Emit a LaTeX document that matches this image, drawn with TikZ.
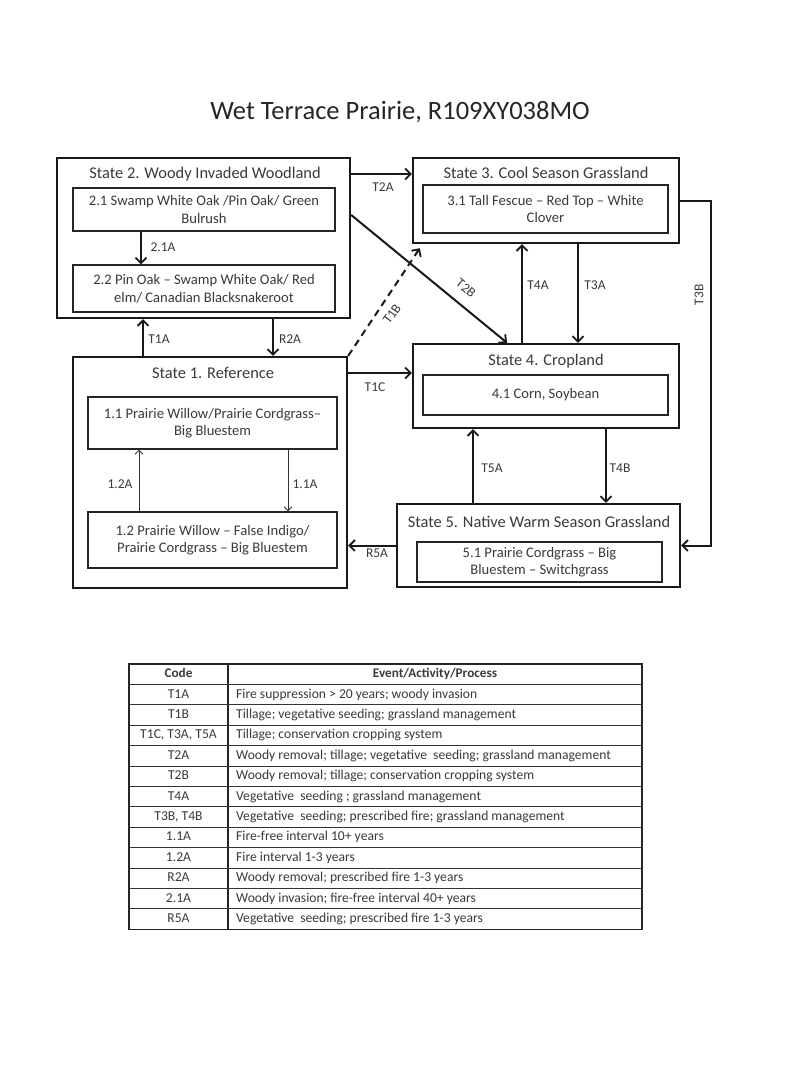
\documentclass[tikz,border=0pt]{standalone}
\usepackage{fontspec}
\setmainfont{Carlito}
\usetikzlibrary{arrows.meta,calc}
\definecolor{txt}{HTML}{3A3A3A}
\tikzset{
  statebox/.style={draw=black!90,line width=2.4pt,minimum width=#1,inner sep=0pt},
  innerbox/.style={draw=black!85,line width=1.2pt,inner sep=0pt,align=center,text=txt,font=\fontsize{14.6}{17.5}\selectfont},
  stitle/.style={text=txt,font=\fontsize{16.4}{19}\selectfont,inner sep=0pt},
  arr/.style={line width=2pt,black!90,-{Straight Barb[length=5.5pt,width=11pt,line width=1.8pt]}},
  tarr/.style={line width=0.9pt,black!80,-{Straight Barb[length=4pt,width=8pt,line width=0.9pt]}},
  lbl/.style={text=txt,font=\fontsize{13.5}{15}\selectfont,inner sep=0pt},
  tcell/.style={text=txt,font=\fontsize{13.6}{15}\selectfont,inner sep=0pt,text height=9.6pt,text depth=2.8pt},
}
\begin{document}
\begin{tikzpicture}[x=1pt,y=-1pt]
\useasboundingbox[fill=white] (0,0) rectangle (800,1065);

\node[text=black!85,font=\fontsize{26.5}{30}\selectfont,inner sep=0pt] (title) at (400,112) {Wet Terrace Prairie, R109XY038MO};

% State 2
\node[statebox=293pt,minimum height=160pt] (s2) at (203.5,238) {};
\node[stitle] (s2t) at (205,174) {State 2. Woody Invaded Woodland};
\node[innerbox,minimum width=262pt,minimum height=43pt] (n21) at (204,209.5) {2.1 Swamp White Oak /Pin Oak/ Green\\Bulrush};
\node[innerbox,minimum width=262pt,minimum height=47pt] (n22) at (204,288.5) {2.2 Pin Oak -- Swamp White Oak/ Red\\elm/ Canadian Blacksnakeroot};

% State 3
\node[statebox=266pt,minimum height=85pt] (s3) at (546,200.5) {};
\node[stitle] (s3t) at (546,173) {State 3. Cool Season Grassland};
\node[innerbox,minimum width=245pt,minimum height=48pt] (n31) at (545.5,209) {3.1 Tall Fescue -- Red Top -- White\\Clover};

% State 1
\node[statebox=274pt,minimum height=231pt] (s1) at (210,472.5) {};
\node[stitle] (s1t) at (213,373) {State 1. Reference};
\node[innerbox,minimum width=249pt,minimum height=52pt] (n11) at (212.5,423) {1.1 Prairie Willow/Prairie Cordgrass--\\Big Bluestem};
\node[innerbox,minimum width=249pt,minimum height=56pt] (n12) at (212.5,540) {1.2 Prairie Willow -- False Indigo/\\Prairie Cordgrass -- Big Bluestem};

% State 4
\node[statebox=266pt,minimum height=84pt] (s4) at (546,386) {};
\node[stitle] (s4t) at (546,361) {State 4. Cropland};
\node[innerbox,minimum width=245pt,minimum height=40pt] (n41) at (545.5,395) {4.1 Corn, Soybean};

% State 5
\node[statebox=283pt,minimum height=83pt] (s5) at (538.5,545.5) {};
\node[stitle] (s5t) at (539,522) {State 5. Native Warm Season Grassland};
\node[innerbox,minimum width=245pt,minimum height=40pt] (n51) at (539.5,562) {5.1 Prairie Cordgrass -- Big\\Bluestem -- Switchgrass};

% helper coordinates for vertical connectors
\coordinate (xT1A) at (143,0);
\coordinate (xR2A) at (273,0);
\coordinate (x21A) at (141,0);
\coordinate (x12A) at (139,0);
\coordinate (x11A) at (288,0);
\coordinate (xT4A) at (522,0);
\coordinate (xT3A) at (578,0);
\coordinate (xT5A) at (473,0);
\coordinate (xT4B) at (606,0);

% connectors
\draw[arr] (s2.east |- s2t) -- (s3.west |- s2t);
\draw[arr] ([yshift=23pt]s2.east) -- ([xshift=-39pt]s4.north);
\draw[arr,dash pattern=on 7pt off 5pt] (s1.north east) -- ([xshift=8pt,yshift=-4pt]s3.south west);
\draw[arr] (s4.north -| xT4A) -- (s3.south -| xT4A);
\draw[arr] (s3.south -| xT3A) -- (s4.north -| xT3A);
\draw[arr] (s3.east) -- ++(31,0) |- (s5.east);
\draw[arr] (s1.north -| xT1A) -- (s2.south -| xT1A);
\draw[arr] (s2.south -| xR2A) -- (s1.north -| xR2A);
\draw[arr] (s1.east |- s1t) -- (s4.west |- s1t);
\draw[arr] (s5.north -| xT5A) -- (s4.south -| xT5A);
\draw[arr] (s4.south -| xT4B) -- (s5.north -| xT4B);
\draw[arr] (s5.west) -- (s1.east |- s5.west);
\draw[arr] (n21.south -| x21A) -- (n22.north -| x21A);
\draw[tarr] (n12.north -| x12A) -- (n11.south -| x12A);
\draw[tarr] (n11.south -| x11A) -- (n12.north -| x11A);

% connector labels
\node[lbl] (lT2A) at (383,187) {T2A};
\node[lbl,rotate=-39] (lT2B) at (466,288) {T2B};
\node[lbl,rotate=54] (lT1B) at (392,314) {T1B};
\node[lbl] (lT4A) at (538,285) {T4A};
\node[lbl] (lT3A) at (595,285) {T3A};
\node[lbl,rotate=90] (lT3B) at (699,295) {T3B};
\node[lbl] (lT1A) at (159,339) {T1A};
\node[lbl] (lR2A) at (290,339) {R2A};
\node[lbl] (l21A) at (163,247) {2.1A};
\node[lbl] (lT1C) at (375,387) {T1C};
\node[lbl] (lR5A) at (377,553) {R5A};
\node[lbl] (lT5A) at (492,468) {T5A};
\node[lbl] (lT4B) at (620,468) {T4B};
\node[lbl] (l12A) at (120,484) {1.2A};
\node[lbl] (l11A) at (305,484) {1.1A};

% table
\draw[black!85,line width=1.2pt] (129,664) rectangle (642,929.2);
\draw[black!85,line width=1.2pt] (228,664) -- (228,929.2);
\foreach \k in {1,...,12}{
  \draw[black!80,line width=0.9pt] (129,664+20.4*\k) -- (642,664+20.4*\k);
}
\node[tcell,font=\bfseries\fontsize{13.2}{15}\selectfont] (hc) at (178.5,674.2) {Code};
\node[tcell,font=\bfseries\fontsize{13.2}{15}\selectfont] (he) at (435,674.2) {Event/Activity/Process};
\foreach \c/\e [count=\i] in {
  {T1A}/{Fire suppression > 20 years; woody invasion},
  {T1B}/{Tillage; vegetative seeding; grassland management},
  {T1C, T3A, T5A}/{Tillage; conservation cropping system},
  {T2A}/{Woody removal; tillage; vegetative\ \ seeding; grassland management},
  {T2B}/{Woody removal; tillage; conservation cropping system},
  {T4A}/{Vegetative\ \ seeding ; grassland management},
  {T3B, T4B}/{Vegetative\ \ seeding; prescribed fire; grassland management},
  {1.1A}/{Fire-free interval 10+ years},
  {1.2A}/{Fire interval 1-3 years},
  {R2A}/{Woody removal; prescribed fire 1-3 years},
  {2.1A}/{Woody invasion; fire-free interval 40+ years},
  {R5A}/{Vegetative\ \ seeding; prescribed fire 1-3 years}}{
  \pgfmathsetmacro\yy{664+20.4*(\i+0.5)}
  \node[tcell] (c\i) at (178.5,\yy) {\c};
  \node[tcell,anchor=west] (e\i) at (236,\yy) {\e};
}
\end{tikzpicture}
\end{document}
